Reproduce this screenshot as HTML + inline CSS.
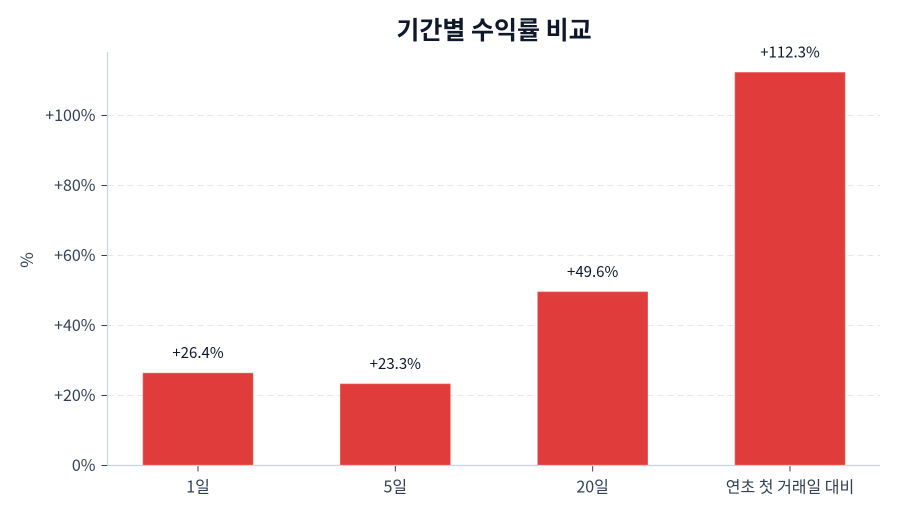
<!DOCTYPE html>
<html><head><meta charset="utf-8"><style>
body{margin:0;background:#fff;}
svg{display:block;font-family:"Noto Sans CJK KR","Liberation Sans",sans-serif;}
</style></head><body>
<svg id="chart" width="900" height="514" viewBox="0 0 900 514" xmlns="http://www.w3.org/2000/svg">
<rect width="900" height="514" fill="#fff"/>
<text x="494" y="39" text-anchor="middle" font-size="25" font-weight="bold" fill="#0f172a">기간별 수익률 비교</text>
<text transform="translate(33,260) rotate(-90)" text-anchor="middle" font-size="17" fill="#334155">%</text>
<g id="grid"></g><g id="bars"></g><g id="labels"></g><g id="axes"></g>
</svg>
<script>
const categories = ["1일","5일","20일","연초 첫 거래일 대비"];
const values = [26.4, 23.3, 49.6, 112.3];
const valueLabels = ["+26.4%","+23.3%","+49.6%","+112.3%"];
const yTicks = [0,20,40,60,80,100];
const yTickLabels = ["0%","+20%","+40%","+60%","+80%","+100%"];

const NS="http://www.w3.org/2000/svg";
const x0=107.5,x1=880,yBase=465.5,yTop=52;
const y=v=>yBase-v*3.5;
const x=i=>198+i*(592/3);
const bw=110;
function mk(tag,attrs,parent,text){const e=document.createElementNS(NS,tag);for(const k in attrs)e.setAttribute(k,attrs[k]);if(text!==undefined)e.textContent=text;document.getElementById(parent).appendChild(e);return e;}
yTicks.forEach((t,i)=>{
  if(t>0){const g=mk('line',{x1:x0,x2:x1,y1:y(t),y2:y(t),stroke:'#e5e7eb','stroke-dasharray':'6 4','stroke-width':1},'grid');
  
  }
  const tk=mk('line',{x1:x0-6,x2:x0,y1:y(t),y2:y(t),stroke:'#334155','stroke-width':1},'axes');
  
  
  const tl=mk('text',{x:x0-12,y:y(t)+5.5,'text-anchor':'end','font-size':16,fill:'#334155'},'axes',yTickLabels[i]);
  
  
});
values.forEach((v,i)=>{
  const b=mk('rect',{x:x(i)-bw/2,y:y(v),width:bw,height:yBase-y(v),fill:'#e03c3c',stroke:'#ee6b6b','stroke-width':0.6},'bars');
  
  
  const l=mk('text',{x:x(i),y:y(v)-15,'text-anchor':'middle','font-size':15,fill:'#0f172a'},'labels',valueLabels[i]);
  
  
  const tk=mk('line',{x1:x(i),x2:x(i),y1:yBase,y2:yBase+6,stroke:'#334155','stroke-width':1},'axes');
  
  
  const cl=mk('text',{x:x(i),y:yBase+27,'text-anchor':'middle','font-size':16,fill:'#334155'},'axes',categories[i]);
  
  
});
const sl=mk('line',{x1:x0,x2:x0,y1:yTop,y2:yBase,stroke:'#cbd5e1','stroke-width':1.2},'axes');


const sb=mk('line',{x1:x0,x2:x1,y1:yBase,y2:yBase,stroke:'#cbd5e1','stroke-width':1.2},'axes');


</script>
</body></html>
